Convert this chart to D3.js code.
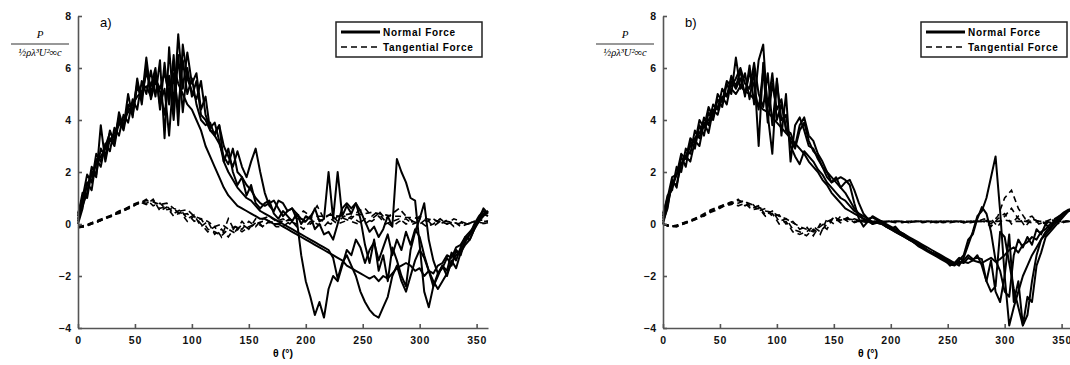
<!DOCTYPE html>
<html>
<head>
<meta charset="utf-8">
<script src="https://cdn.jsdelivr.net/npm/d3@7"></script>
<style>
  body { margin: 0; background: #fff; }
  .axis path, .axis line { stroke: #555; stroke-width: 1.6; }
  .axis text { font: bold 10.5px Arial, "Liberation Sans", sans-serif; fill: #111; letter-spacing: 0.8px; }
</style>
</head>
<body>
<script>
const width = 1070;
const height = 365;

// sample angles (deg) for the normal-force runs
const thetaN = [
  0, 4, 8, 12, 16, 20, 24, 28, 32, 36,
  40, 44, 48, 52, 56, 60, 64, 68, 72, 76,
  80, 84, 88, 92, 96, 100, 104, 108, 112, 116,
  120, 124, 128, 132, 136, 140, 144, 148, 152, 156,
  160, 164, 168, 172, 176, 180, 184, 188, 192, 196,
  200, 204, 208, 212, 216, 220, 224, 228, 232, 236,
  240, 244, 248, 252, 256, 260, 264, 268, 272, 276,
  280, 284, 288, 292, 296, 300, 304, 308, 312, 316,
  320, 324, 328, 332, 336, 340, 344, 348, 352, 356,
  360
];

// sample angles (deg) for the tangential-force runs
const thetaT = [
  0, 6, 12, 18, 24, 30, 36, 42, 48, 54,
  60, 66, 72, 78, 84, 90, 96, 102, 108, 114,
  120, 126, 132, 138, 144, 150, 156, 162, 168, 174,
  180, 186, 192, 198, 204, 210, 216, 222, 228, 234,
  240, 246, 252, 258, 264, 270, 276, 282, 288, 294,
  300, 306, 312, 318, 324, 330, 336, 342, 348, 354,
  360
];

// panel a) normal force, one array per run
const normalA1 = [
  0.1, 0.9, 1.5, 1.9, 2.3, 2.6, 2.9, 3.2, 3.5, 3.8,
  4.0, 4.3, 4.6, 4.9, 5.1, 5.3, 4.9, 5.6, 5.2, 5.8,
  5.0, 6.1, 5.4, 5.0, 4.6, 4.4, 4.0, 3.6, 3.0, 2.6,
  2.2, 1.8, 1.4, 1.1, 0.9, 0.7, 0.6, 0.5, 0.4, 0.3,
  0.2, 0.2, 0.1, 0.0, 0.0, -0.1, -0.2, -0.3, -0.4, -0.5,
  -0.6, -0.7, -0.8, -0.9, -1.0, -1.1, -1.2, -1.3, -1.4, -1.6,
  -1.7, -1.8, -1.9, -2.0, -2.1, -2.0, -2.2, -2.0, -2.1, -1.9,
  -1.7, -1.6, -1.5, -1.6, -1.8, -1.7, -2.0, -1.8, -1.9, -1.6,
  -1.5, -1.2, -1.3, -0.9, -0.8, -0.5, -0.3, -0.1, 0.1, 0.3,
  0.5
];
const normalA2 = [
  0.3, 1.2, 1.0, 2.0, 1.8, 3.8, 2.4, 3.3, 3.0, 4.0,
  3.6, 4.5, 4.2, 5.3, 4.8, 6.4, 5.0, 5.8, 4.6, 5.2,
  3.4, 5.8, 4.4, 6.3, 5.0, 5.6, 4.6, 4.0, 3.8, 3.9,
  3.4, 3.8, 3.0, 2.6, 2.2, 2.8, 2.2, 1.8, 2.4, 2.9,
  2.0, 1.2, 0.7, 0.5, 0.9, 0.8, 0.5, 0.6, 0.2, -1.2,
  -2.2, -2.8, -3.5, -3.0, -3.6, -2.5, -2.0, -2.2, -1.6, -1.0,
  -1.2, -0.6, -0.9, -1.5, -1.0, -0.7, -1.4, -0.9, -0.4, -1.2,
  -0.6, -1.0, -0.3, -0.8, -0.2, -0.5, -1.2, -1.8, -2.4, -1.9,
  -1.6, -2.0, -1.4, -1.7, -1.1, -0.8, -0.6, -0.2, 0.1, 0.4,
  0.5
];
const normalA3 = [
  0.0, 0.6, 1.6, 1.3, 2.5, 2.2, 3.1, 2.8, 3.7, 3.4,
  4.2, 3.9, 4.8, 4.4, 5.5, 5.0, 5.9, 4.9, 6.3, 3.3,
  6.8, 4.5, 7.3, 5.2, 6.6, 5.4, 5.8, 4.4, 4.9, 3.6,
  3.5, 3.8, 2.4, 2.9, 2.0, 1.5, 1.8, 1.1, 1.5, 0.8,
  0.6, 0.8, 0.9, 0.4, 0.2, 0.5, 0.3, 0.1, 0.4, 0.0,
  0.3, 0.2, 0.6, 0.1, 0.2, 2.0, 0.2, 2.0, 0.3, 0.7,
  0.4, 0.8, 0.5, 0.1, -0.3, -0.1, -0.5, -0.2, 0.3, -0.1,
  2.5, 2.0, 1.6, 1.0, 0.9, -0.8, -2.6, -3.2, -2.4, -2.0,
  -1.6, -1.8, -1.1, -1.4, -0.9, -0.5, -0.6, -0.2, 0.2, 0.6,
  0.4
];
const normalA4 = [
  0.4, 1.0, 1.9, 1.6, 2.7, 2.4, 3.0, 3.5, 3.3, 4.1,
  3.8, 4.6, 4.4, 5.4, 5.0, 5.8, 5.3, 6.0, 4.4, 6.2,
  4.6, 6.5, 3.8, 6.9, 5.6, 5.1, 4.8, 5.5, 4.2, 3.7,
  3.9, 3.2, 2.4, 2.0, 1.7, 1.4, 1.2, 1.0, 0.9, 0.7,
  0.5, 0.4, 0.3, 0.2, 0.1, 0.0, -0.1, -0.2, -0.3, -0.4,
  -0.5, -0.6, -0.7, -0.8, -0.9, -1.0, -1.3, -2.1, -1.5, -1.2,
  -1.6, -2.0, -2.6, -3.0, -3.3, -3.5, -3.6, -3.2, -2.8, -2.0,
  -1.6, -2.2, -2.6, -2.0, -1.4, -1.0, -1.3, -1.8, -2.2, -2.5,
  -2.2, -1.9, -1.5, -1.2, -1.0, -0.7, -0.4, -0.1, 0.2, 0.4,
  0.3
];
const normalA5 = [
  0.2, 0.7, 1.2, 2.2, 1.9, 2.9, 2.6, 3.6, 3.1, 4.3,
  3.7, 5.0, 4.1, 5.6, 4.6, 6.1, 4.8, 5.5, 5.1, 4.2,
  5.7, 4.0, 6.5, 4.3, 6.0, 4.9, 5.5, 4.2, 4.0, 3.6,
  3.4, 3.1, 2.6, 2.3, 2.9, 2.0, 1.8, 1.5, 1.3, 1.0,
  0.8, 0.7, 0.8, 0.9, 0.6, 0.3, 0.5, 0.6, 0.4, 0.2,
  0.1, 0.3, -0.2, 0.0, -0.4, -0.3, -0.6, 0.0, 0.6, 0.8,
  0.6, 0.8, 0.2, -0.8, -1.5, -0.6, -1.8, -1.2, -2.2, -0.9,
  -1.4, -2.0, -2.4, -1.0, -0.3, 0.2, 0.8, -0.6, -1.4, -1.9,
  -1.7, -1.3, -1.6, -1.0, -1.2, -0.6, -0.4, 0.0, 0.3, 0.5,
  0.4
];

// panel a) tangential force
const tangA1 = [
  -0.1, -0.1, 0.0, 0.1, 0.2, 0.3, 0.45, 0.55, 0.7, 0.8,
  0.9, 0.85, 0.75, 0.8, 0.6, 0.5, 0.55, 0.3, 0.2, 0.1,
  -0.1, 0.0, -0.2, -0.1, -0.3, -0.1, 0.0, 0.1, 0.05, 0.1,
  0.1, 0.15, 0.2, 0.2, 0.25, 0.3, 0.3, 0.35, 0.3, 0.35,
  0.4, 0.35, 0.4, 0.45, 0.4, 0.35, 0.3, 0.3, 0.25, 0.25,
  0.2, 0.2, 0.15, 0.1, 0.1, 0.05, 0.0, 0.0, 0.05, 0.1,
  0.1
];
const tangA2 = [
  -0.1, -0.05, 0.05, 0.15, 0.25, 0.35, 0.5, 0.6, 0.75, 0.85,
  0.8, 0.9, 0.6, 0.7, 0.4, 0.55, 0.2, 0.35, -0.1, 0.1,
  -0.4, -0.2, -0.5, -0.1, -0.2, 0.1, -0.1, 0.2, 0.3, 0.1,
  0.2, 0.0, 0.3, 0.5, 0.3, 0.7, 0.2, 0.4, 0.1, 0.3,
  0.2, 0.5, 0.6, 0.3, 0.5, 0.2, 0.4, 0.6, 0.3, 0.1,
  0.3, 0.1, 0.2, 0.0, 0.15, -0.1, 0.05, 0.0, 0.1, 0.15,
  0.1
];
const tangA3 = [
  -0.15, -0.1, 0.0, 0.1, 0.25, 0.3, 0.45, 0.6, 0.7, 0.8,
  0.95, 0.7, 0.8, 0.55, 0.6, 0.35, 0.4, 0.1, 0.2, -0.2,
  -0.3, -0.45, -0.2, -0.35, 0.0, -0.2, 0.05, -0.1, 0.1, 0.0,
  0.05, 0.2, -0.1, 0.1, 0.0, 0.2, 0.1, 0.0, 0.3, 0.2,
  0.1, 0.0, 0.2, 0.1, 0.3, 0.0, 0.1, 0.2, 0.0, 0.1,
  0.0, 0.2, -0.1, 0.1, 0.0, 0.2, 0.1, 0.0, 0.1, 0.05,
  0.0
];
const tangA4 = [
  -0.1, -0.1, 0.05, 0.1, 0.2, 0.35, 0.4, 0.55, 0.65, 0.85,
  0.75, 0.95, 0.5, 0.65, 0.3, 0.45, 0.1, 0.3, 0.0, -0.3,
  -0.1, -0.5, 0.2, -0.3, 0.1, -0.2, 0.2, -0.1, 0.1, -0.1,
  -0.1, 0.1, 0.0, -0.2, 0.1, 0.0, -0.1, 0.2, 0.0, 0.1,
  0.3, 0.1, 0.0, 0.2, 0.4, 0.1, -0.1, 0.1, 0.2, 0.0,
  0.1, -0.1, 0.0, 0.2, 0.0, 0.1, -0.1, 0.0, 0.1, 0.0,
  0.05
];

// panel b) normal force
const normalB1 = [
  0.2, 0.9, 1.4, 1.9, 2.3, 2.6, 3.0, 3.3, 3.5, 3.8,
  4.0, 4.3, 4.5, 4.8, 5.0, 5.2, 5.0, 5.3, 5.1, 5.0,
  4.8, 4.6, 4.4, 4.3, 4.1, 3.9, 3.7, 3.5, 3.3, 3.1,
  2.9, 2.7, 2.4, 2.2, 2.0, 1.7, 1.5, 1.2, 1.0, 0.8,
  0.6, 0.5, 0.4, 0.3, 0.2, 0.15, 0.1, 0.05, 0.0, -0.1,
  -0.2, -0.3, -0.4, -0.5, -0.6, -0.7, -0.8, -0.9, -1.0, -1.1,
  -1.2, -1.3, -1.4, -1.5, -1.55, -1.5, -1.45, -1.5, -1.4, -1.45,
  -1.5, -1.4, -1.3, -1.45, -1.35, -1.2, -1.0, -0.9, -1.1, -0.8,
  -0.7, -0.5, -0.6, -0.3, -0.2, 0.0, 0.1, 0.2, 0.4, 0.5,
  0.6
];
const normalB2 = [
  0.1, 0.6, 1.7, 1.4, 2.6, 2.2, 3.2, 2.9, 3.8, 3.4,
  4.3, 4.0, 4.8, 4.5, 5.4, 5.0, 6.4, 5.2, 5.8, 4.8,
  5.9, 3.0, 6.2, 4.5, 5.8, 4.0, 4.6, 3.7, 3.2, 2.9,
  3.6, 3.9, 3.2, 2.8, 2.6, 2.2, 2.0, 1.8, 1.6, 1.4,
  1.2, 0.9, 0.6, 0.4, 0.3, 0.2, 0.25, 0.15, 0.1, 0.0,
  -0.1, -0.2, -0.3, -0.4, -0.5, -0.6, -0.7, -0.8, -0.9, -1.0,
  -1.1, -1.2, -1.3, -1.4, -1.5, -1.6, -1.3, -0.8, -0.3, 0.3,
  0.5, 1.0, 1.8, 2.6, 0.5, -2.0, -3.9, -3.2, -2.6, -2.0,
  -1.6, -1.2, -0.9, -0.6, -0.3, -0.1, 0.1, 0.3, 0.4, 0.5,
  0.6
];
const normalB3 = [
  0.3, 1.1, 1.3, 2.2, 2.0, 2.9, 2.7, 3.6, 3.3, 4.1,
  3.8, 4.6, 4.4, 5.2, 4.9, 5.7, 5.3, 5.9, 4.9, 6.1,
  4.6, 6.3, 6.9, 4.2, 2.7, 5.6, 3.4, 5.0, 2.4, 3.8,
  4.1, 3.6, 3.0, 2.9, 2.5, 2.2, 1.8, 1.6, 1.7, 1.8,
  1.7, 1.5, 0.8, 0.2, -0.1, 0.1, 0.3, 0.2, 0.1, -0.1,
  -0.2, -0.1, -0.3, -0.4, -0.55, -0.7, -0.8, -0.9, -1.0, -1.1,
  -1.2, -1.3, -1.4, -1.6, -1.5, -1.3, -1.4, -1.2, -1.35, -1.3,
  -1.35, -2.2, -2.6, -2.4, -0.3, -0.5, -1.5, -2.5, -3.2, -3.9,
  -3.5, -2.2, -1.2, -0.6, -0.4, -0.2, 0.0, 0.2, 0.4, 0.5,
  0.6
];
const normalB4 = [
  0.0, 0.7, 1.6, 1.5, 2.3, 2.6, 2.4, 3.2, 3.0, 3.9,
  3.5, 4.4, 4.2, 4.9, 4.6, 5.5, 5.2, 5.6, 5.0, 5.8,
  5.3, 4.4, 5.9, 3.9, 5.4, 4.4, 4.8, 3.6, 3.5, 3.0,
  3.8, 4.1, 3.4, 3.2, 2.7, 2.4, 2.0, 1.6, 1.8, 1.4,
  1.6, 1.7, 1.3, 0.8, 0.4, 0.2, 0.0, 0.1, 0.05, -0.05,
  -0.15, -0.25, -0.35, -0.45, -0.55, -0.65, -0.75, -0.85, -1.0, -1.1,
  -1.15, -1.25, -1.35, -1.45, -1.5, -1.4, -1.2, -0.6, -0.4, 0.2,
  0.65, 0.4, -0.3, -1.4, -1.8, -2.6, -2.8, -1.2, -0.6, -0.9,
  -0.5, -0.8, -0.2, -0.4, 0.0, -0.2, 0.2, 0.3, 0.45, 0.55,
  0.6
];
const normalB5 = [
  0.4, 1.0, 1.8, 1.9, 2.7, 2.5, 3.3, 3.1, 4.0, 3.7,
  4.5, 4.1, 5.0, 4.7, 5.5, 5.3, 5.6, 6.0, 5.4, 5.2,
  6.2, 5.0, 4.5, 5.8, 3.8, 5.5, 4.0, 4.2, 3.0, 2.6,
  2.3, 2.8, 2.6, 2.4, 2.1, 1.9, 1.6, 1.4, 1.2, 1.0,
  0.9, 0.7, 0.5, 0.4, 0.2, 0.1, 0.0, 0.05, 0.0, -0.1,
  -0.2, -0.3, -0.4, -0.5, -0.6, -0.7, -0.85, -0.95, -1.05, -1.15,
  -1.25, -1.35, -1.45, -1.55, -1.6, -1.45, -1.5, -1.3, -1.4, -1.2,
  -1.6, -2.2, -1.4, -2.6, -3.0, -2.0, -0.4, -3.0, -2.2, -3.9,
  -2.8, -3.0, -1.6, -1.1, -0.5, -0.3, -0.1, 0.1, 0.3, 0.5,
  0.6
];

// panel b) tangential force
const tangB1 = [
  0.0, -0.1, -0.1, 0.0, 0.1, 0.2, 0.35, 0.5, 0.6, 0.7,
  0.8, 0.9, 0.85, 0.75, 0.65, 0.5, 0.45, 0.3, 0.2, 0.05,
  -0.1, -0.2, -0.3, -0.1, 0.1, 0.2, 0.15, 0.2, 0.15, 0.1,
  0.1, 0.1, 0.1, 0.1, 0.1, 0.1, 0.1, 0.1, 0.1, 0.1,
  0.1, 0.1, 0.1, 0.1, 0.1, 0.1, 0.1, 0.1, 0.1, 0.1,
  0.15, 0.1, 0.1, 0.1, 0.05, 0.1, 0.1, 0.05, 0.1, 0.1,
  0.1
];
const tangB2 = [
  0.0, -0.1, -0.05, 0.05, 0.15, 0.25, 0.4, 0.55, 0.65, 0.75,
  0.85, 0.8, 0.9, 0.6, 0.7, 0.35, 0.5, 0.1, 0.2, -0.2,
  -0.3, -0.45, -0.2, -0.4, 0.2, 0.0, 0.3, 0.1, 0.2, 0.1,
  0.05, 0.1, 0.05, 0.1, 0.1, 0.05, 0.1, 0.1, 0.05, 0.1,
  0.1, 0.05, 0.1, 0.1, 0.05, 0.1, 0.1, 0.2, 0.0, 0.3,
  1.0, 1.3, 0.6, 0.2, 0.3, 0.0, 0.1, 0.2, 0.0, 0.1,
  0.1
];
const tangB3 = [
  0.0, -0.05, -0.1, 0.0, 0.1, 0.2, 0.35, 0.45, 0.55, 0.7,
  0.75, 0.95, 0.7, 0.8, 0.5, 0.6, 0.3, 0.35, 0.0, 0.1,
  -0.2, -0.1, -0.45, 0.0, -0.2, 0.3, 0.1, 0.25, 0.05, 0.15,
  0.1, 0.05, 0.1, 0.1, 0.05, 0.1, 0.05, 0.1, 0.1, 0.05,
  0.1, 0.1, 0.05, 0.1, 0.1, 0.05, 0.1, 0.1, -0.1, 0.2,
  0.4, 0.0, 0.3, -0.1, 0.2, 0.1, 0.0, 0.15, 0.05, 0.1,
  0.1
];
const tangB4 = [
  0.0, -0.1, -0.05, 0.05, 0.1, 0.25, 0.3, 0.5, 0.6, 0.75,
  0.8, 0.7, 0.8, 0.55, 0.6, 0.3, 0.4, 0.0, 0.1, -0.3,
  -0.4, -0.3, -0.1, -0.3, 0.0, 0.25, 0.05, 0.2, 0.1, 0.1,
  0.1, 0.1, 0.05, 0.1, 0.1, 0.1, 0.05, 0.1, 0.1, 0.1,
  0.05, 0.1, 0.1, 0.1, 0.05, 0.1, 0.1, 0.1, 0.2, -0.1,
  0.3, 0.6, 0.2, 0.1, 0.2, 0.1, 0.05, 0.1, 0.1, 0.1,
  0.1
];

const xTicks = [0, 50, 100, 150, 200, 250, 300, 350];
const yTicks = [-4, -2, 0, 2, 4, 6, 8];
const legendLabels = ["Normal Force", "Tangential Force"];

const panels = [
  { label: "a)", left: 78, normal: [normalA1, normalA2, normalA3, normalA4, normalA5],
    tangential: [tangA1, tangA2, tangA3, tangA4] },
  { label: "b)", left: 663, normal: [normalB1, normalB2, normalB3, normalB4, normalB5],
    tangential: [tangB1, tangB2, tangB3, tangB4] }
];

const plotW = 410;
const plotTop = 16, plotBottom = 328;

const svg = d3.select("body").append("svg")
  .attr("width", width)
  .attr("height", height)
  .style("display", "block");

panels.forEach(p => {
  const x = d3.scaleLinear().domain([0, 360]).range([p.left, p.left + plotW]);
  const y = d3.scaleLinear().domain([-4, 8]).range([plotBottom, plotTop]);
  const g = svg.append("g");

  // tangential runs (dashed)
  const lineT = d3.line().x((d, i) => x(thetaT[i])).y(d => y(d));
  g.selectAll(".tang")
    .data(p.tangential)
    .join("path")
      .attr("class", "tang")
      .attr("d", lineT)
      .attr("fill", "none")
      .attr("stroke", "#000")
      .attr("stroke-width", 1.6)
      .attr("stroke-dasharray", "6,4");

  // normal runs (solid)
  const lineN = d3.line().x((d, i) => x(thetaN[i])).y(d => y(d));
  g.selectAll(".norm")
    .data(p.normal)
    .join("path")
      .attr("class", "norm")
      .attr("d", lineN)
      .attr("fill", "none")
      .attr("stroke", "#000")
      .attr("stroke-width", 2)
      .attr("stroke-linejoin", "round");

  // axes, ticks point inward
  g.append("g")
    .attr("class", "axis")
    .attr("transform", `translate(0,${plotBottom})`)
    .call(d3.axisBottom(x).tickValues(xTicks).tickSize(-4).tickSizeOuter(0).tickPadding(9));

  g.append("g")
    .attr("class", "axis")
    .attr("transform", `translate(${p.left},0)`)
    .call(d3.axisLeft(y).tickValues(yTicks).tickSize(-4).tickSizeOuter(0).tickPadding(6));

  // x title
  g.append("text")
    .attr("x", p.left + 205)
    .attr("y", 357)
    .attr("text-anchor", "middle")
    .style("font", "bold 10.5px Arial, sans-serif")
    .text("θ (°)");

  // y label as a fraction
  const fx = p.left - 38;
  g.append("text")
    .attr("x", fx)
    .attr("y", 38)
    .attr("text-anchor", "middle")
    .style("font", "italic 11px 'Liberation Serif', serif")
    .text("P");
  g.append("line")
    .attr("x1", fx - 29).attr("x2", fx + 29)
    .attr("y1", 44).attr("y2", 44)
    .attr("stroke", "#333").attr("stroke-width", 1.2);
  const den = g.append("text")
    .attr("x", fx)
    .attr("y", 56)
    .attr("text-anchor", "middle")
    .style("font", "italic 10.5px 'Liberation Serif', serif")
    .text("½ρλ³U²∞c");

  // panel label
  g.append("text")
    .attr("x", p.left + 22)
    .attr("y", 27)
    .style("font", "13px Arial, sans-serif")
    .text(p.label);

  // legend
  const lx = p.left + 258;
  const leg = g.append("g");
  leg.append("rect")
    .attr("x", lx).attr("y", 22)
    .attr("width", 146).attr("height", 35)
    .attr("fill", "#fff").attr("stroke", "#222").attr("stroke-width", 1.5);
  legendLabels.forEach((lab, i) => {
    const ly = 32 + i * 15;
    leg.append("line")
      .attr("x1", lx + 5).attr("x2", lx + 44)
      .attr("y1", ly).attr("y2", ly)
      .attr("stroke", "#000")
      .attr("stroke-width", i === 0 ? 2.8 : 1.5)
      .attr("stroke-dasharray", i === 0 ? null : "6,4");
    leg.append("text")
      .attr("x", lx + 47)
      .attr("y", ly + 3.5)
      .style("font", "bold 10px Arial, sans-serif")
      .style("letter-spacing", "0.7px")
      .text(lab);
  });
});
</script>
</body>
</html>
